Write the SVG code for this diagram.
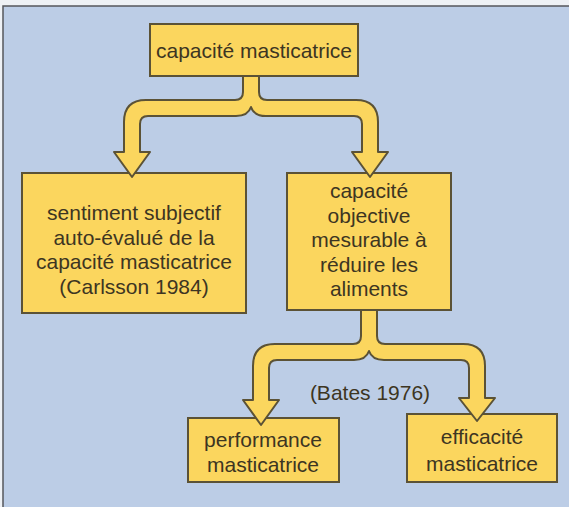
<svg xmlns="http://www.w3.org/2000/svg" width="569" height="507" viewBox="0 0 569 507">
<style>
.box{fill:#fbd65e;stroke:#5b5236;stroke-width:2}
.arrow{fill:#fbd65e;stroke:#5b5236;stroke-width:2;stroke-linejoin:round}
text{font-family:"Liberation Sans",Arial,sans-serif;font-size:21px;fill:#3d3522;text-anchor:middle}
</style>
<rect x="0" y="0" width="569" height="507" fill="#eef1f5"/>
<rect x="3" y="6" width="570" height="505" fill="#bccde6" stroke="#55575c" stroke-width="1.5"/>

<g id="n-top">
<rect class="box" x="150" y="24" width="208" height="52"/>
<text x="254" y="58">capacité masticatrice</text>
</g>
<g id="n-subjectif">
<rect class="box" x="22" y="173" width="224" height="140"/>
<text x="134" y="220">sentiment subjectif</text>
<text x="134" y="244.5">auto-évalué de la</text>
<text x="134" y="269">capacité masticatrice</text>
<text x="134" y="293.5">(Carlsson 1984)</text>
</g>
<g id="n-objective">
<rect class="box" x="287" y="173" width="164" height="137"/>
<text x="369" y="198">capacité</text>
<text x="369" y="222.5">objective</text>
<text x="369" y="247">mesurable à</text>
<text x="369" y="271.5">réduire les</text>
<text x="369" y="296">aliments</text>
</g>
<g id="n-performance">
<rect class="box" x="188" y="418" width="151" height="64"/>
<text x="263" y="447">performance</text>
<text x="263" y="472">masticatrice</text>
</g>
<g id="n-efficacite">
<rect class="box" x="407" y="414" width="150" height="68"/>
<text x="482" y="444">efficacité</text>
<text x="482" y="471">masticatrice</text>
</g>

<g id="connectors">
<path class="arrow" d="M243 76 L243 92 Q243 100 235 100 L146 100 Q124 100 124 122 L124 152 L114 152 L132 177 L150 152 L140 152 L140 124 Q140 116 148 116 L236 116 Q248 116 251 107 Q254 116 266 116 L354 116 Q362 116 362 124 L362 152 L352 152 L370 177 L388 152 L378 152 L378 122 Q378 100 356 100 L267 100 Q259 100 259 92 L259 76 Z"/>
<path class="arrow" d="M361 310 L361 336 Q361 344 353 344 L275 344 Q253 344 253 366 L253 400 L243 400 L261 425 L279 400 L269 400 L269 368 Q269 360 277 360 L354 360 Q366 360 369 351 Q372 360 384 360 L461 360 Q469 360 469 368 L469 398 L459 398 L477 421 L495 398 L485 398 L485 366 Q485 344 463 344 L385 344 Q377 344 377 336 L377 310 Z"/>
<text x="370" y="400">(Bates 1976)</text>
</g>
</svg>
